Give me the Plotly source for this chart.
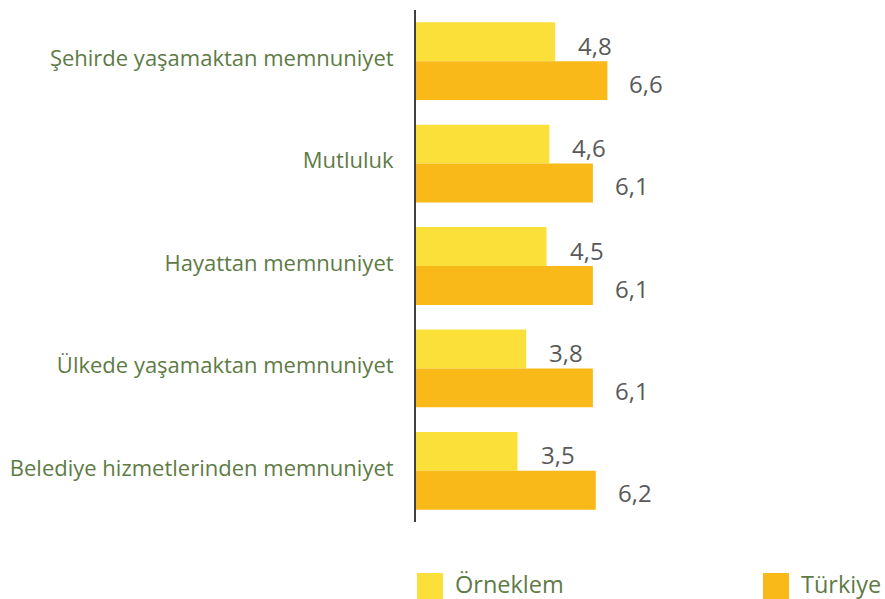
import plotly.graph_objects as go

categories = [
    "Şehirde yaşamaktan memnuniyet",
    "Mutluluk",
    "Hayattan memnuniyet",
    "Ülkede yaşamaktan memnuniyet",
    "Belediye hizmetlerinden memnuniyet",
]
orneklem = [4.8, 4.6, 4.5, 3.8, 3.5]
turkiye = [6.6, 6.1, 6.1, 6.1, 6.2]
series_names = ["Örneklem", "Türkiye"]
colors = ["#FCE03A", "#F9B918"]

GREEN = "#5E7B45"
GRAY = "#595959"
FONT = "'Open Sans', 'Noto Sans', sans-serif"

fig = go.Figure()
for name, vals, col in zip(series_names, [orneklem, turkiye], colors):
    fig.add_trace(go.Bar(
        y=categories, x=vals, name=name, orientation="h",
        marker=dict(color=col, line=dict(width=0)),
        showlegend=False, hoverinfo="skip",
    ))

def fmt(v):
    return f"{v:.1f}".replace(".", ",")

annotations = []
for cat, v in zip(categories, orneklem):
    annotations.append(dict(x=v, y=cat, xref="x", yref="y", text=fmt(v),
                            showarrow=False, xanchor="left", yanchor="middle",
                            xshift=21, yshift=16,
                            font=dict(family=FONT, size=24, color=GRAY)))
for cat, v in zip(categories, turkiye):
    annotations.append(dict(x=v, y=cat, xref="x", yref="y", text=fmt(v),
                            showarrow=False, xanchor="left", yanchor="middle",
                            xshift=20, yshift=-22,
                            font=dict(family=FONT, size=24, color=GRAY)))

# custom legend
L, R, T, B = 416, 237, 10, 77
PW = 885 - L - R
PH = 599 - T - B

def px(x):
    return (x - L) / PW

def py(y):
    return (599 - B - y) / PH

shapes = []
legend_items = [(417, 453), (763, 799)]
for (sx, tx), name, col in zip(legend_items, series_names, colors):
    shapes.append(dict(type="rect", xref="paper", yref="paper",
                       x0=px(sx), x1=px(sx + 26), y0=py(599), y1=py(573),
                       fillcolor=col, line=dict(width=0)))
    annotations.append(dict(x=px(tx), y=py(583.5), xref="paper", yref="paper",
                            text=name, showarrow=False, xanchor="left",
                            yanchor="middle",
                            font=dict(family=FONT, size=23.5, color=GREEN)))

fig.update_layout(
    width=885, height=599,
    margin=dict(l=L, r=R, t=T, b=B),
    paper_bgcolor="white", plot_bgcolor="white",
    barmode="group", bargap=0.24, bargroupgap=0,
    xaxis=dict(range=[0, 8], visible=False, fixedrange=True),
    yaxis=dict(autorange="reversed", showline=True, linecolor="#404040",
               linewidth=2, ticks="", showgrid=False, zeroline=False,
               ticklabelstandoff=16, ticklabelshift=3, fixedrange=True,
               tickfont=dict(family=FONT, size=22, color=GREEN)),
    annotations=annotations,
    shapes=shapes,
)

fig.write_html(
    "out.html",
    config={"displayModeBar": False},
    post_script="document.body.style.margin='0';document.body.style.overflow='hidden';",
)
